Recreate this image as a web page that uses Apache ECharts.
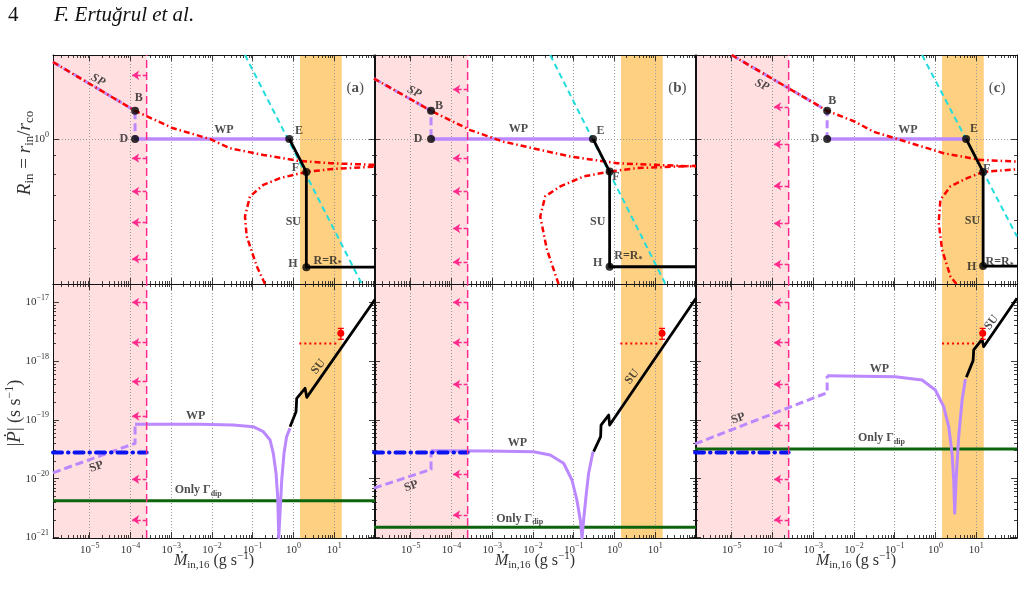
<!DOCTYPE html>
<html lang="en">
<head>
<meta charset="UTF-8">
<title>Inner radius and period derivative against mass inflow rate</title>
<script src="https://cdn.jsdelivr.net/npm/echarts@6/dist/echarts.min.js"></script>
<style>html,body{margin:0;padding:0;background:#fff}#main{width:1024px;height:589px}</style>
</head>
<body>
<div id="main"></div>
<script>
// ---- axis ranges (shared by all panels) ----
var xMin = 1.26e-6, xMax = 100;
var rMin = 0.4, rMax = 1.7;
var pMin = 0.98e-21, pMax = 2.05e-17;
var propLimit = 2.5e-4;          // pink dashed line, propeller limit
var suBand = [1.45, 15.3];       // orange band
var arrowTip = 1.1e-4;

// ---- panel (a) ----
var aTopSP = [[1.26e-6, 1.626], [1.3e-4, 1.195], [1.3e-4, 1.0]];
var aTopWP = [[1.3e-4, 1.0], [0.79, 1.0]];
var aTopSU = [[0.79, 1.0], [2.07, 0.812], [2.07, 0.445], [100, 0.445]];
var aTopRed1 = [[1.26e-6, 1.626], [1.3e-4, 1.195], [1.12e-3, 1.07], [8.9e-3, 1.0], [0.0277, 0.943], [0.182, 0.904], [1.22, 0.872], [7.9, 0.858], [100, 0.849]];
var aTopRed2 = [[0.2, 0.4], [0.125, 0.448], [0.0711, 0.541], [0.0646, 0.613], [0.0857, 0.696], [0.182, 0.748], [0.468, 0.781], [2.07, 0.812], [7.9, 0.826], [100, 0.84]];
var aTopCyan = [[0.0646, 1.7], [47.5, 0.4]];
var aTopPts = [[1.3e-4, 1.195], [1.3e-4, 1.0], [0.79, 1.0], [2.07, 0.812], [2.07, 0.445]];
var aTopArrows = [1.496, 0.886, 0.718, 0.59, 0.469];
var aTopText = [['SP', 1.6e-5, 1.45, -28, 'it'], ['B', 1.6e-4, 1.30], ['D', 6.9e-5, 1.0], ['WP', 0.0197, 1.06], ['E', 1.37, 1.053], ['F', 1.12, 0.833], ['SU', 0.99, 0.594], ['H', 0.966, 0.455], ['R=R{sub|*}', 6.87, 0.464], ['({b|a})', 32.6, 1.383, 0, 'big']];

var aBotSP = [[1.26e-6, 1.26e-20], [1.3e-4, 4.0e-20], [1.3e-4, 8.4e-20]];
var aBotWP = [[1.3e-4, 8.4e-20], [5.06e-3, 8.4e-20], [0.033, 8.2e-20], [0.103, 7.66e-20], [0.182, 6.3e-20], [0.265, 4.6e-20], [0.32, 2.7e-20], [0.373, 1.24e-20], [0.41, 4.9e-21], [0.435, 0.98e-21], [0.468, 2.6e-21], [0.515, 9.5e-21], [0.586, 2.7e-20], [0.68, 5.2e-20], [0.82, 7.2e-20]];
var aBotSU = [[0.824, 7.66e-20], [1.156, 1.38e-19], [1.2, 2.33e-19], [1.92, 3.45e-19], [2.12, 2.42e-19], [100, 1.12e-17]];
var aBotBlue = 2.8e-20;
var aBotGreen = 4.2e-21;
var aBotDotted = [[1.39, 2.0e-18], [13.4, 2.0e-18]];
var aBotObs = [14.5, 2.97e-18, 2.35e-18, 3.6e-18];
var aBotArrows = [1e-17, 2.06e-18, 4.47e-19, 1.16e-19, 9.8e-21, 2.0e-21];
var aBotText = [['WP', 3.99e-3, 1.15e-19], ['SP', 1.47e-5, 1.6e-20, 20], ['Only \u0393{sub|dip}', 4.6e-3, 6.43e-21], ['SU', 4.08, 8.0e-19, 52]];

// ---- panel (b) ----
var bTopSP = [[1.26e-6, 1.465], [3.16e-5, 1.195], [3.16e-5, 1.0]];
var bTopWP = [[3.16e-5, 1.0], [0.297, 1.0]];
var bTopSU = [[0.297, 1.0], [0.76, 0.814], [0.76, 0.446], [100, 0.446]];
var bTopRed1 = [[1.26e-6, 1.465], [3.16e-5, 1.195], [2.88e-4, 1.058], [1.89e-3, 0.983], [0.0824, 0.895], [1.16, 0.858], [100, 0.84]];
var bTopRed2 = [[0.0425, 0.4], [0.022, 0.497], [0.0151, 0.613], [0.02, 0.696], [0.0468, 0.741], [0.175, 0.789], [0.76, 0.814], [3.55, 0.832], [100, 0.844]];
var bTopCyan = [[0.0265, 1.7], [17.8, 0.4]];
var bTopPts = [[3.16e-5, 1.195], [3.16e-5, 1.0], [0.297, 1.0], [0.76, 0.814], [0.76, 0.446]];
var bTopArrows = [1.367, 0.886, 0.718, 0.568, 0.46];
var bTopText = [['SP', 1.22e-5, 1.346, -28, 'it'], ['B', 4.98e-5, 1.23], ['D', 1.53e-5, 1.0], ['WP', 4.4e-3, 1.065], ['E', 0.455, 1.05], ['F', 1.09, 0.789], ['SU', 0.386, 0.593], ['H', 0.386, 0.456], ['R=R{sub|*}', 2.19, 0.477], ['({b|b})', 35, 1.383, 0, 'big']];

var bBotSP = [[1.26e-6, 6.9e-21], [3.16e-5, 1.44e-20], [3.16e-5, 2.99e-20]];
var bBotWP = [[3.16e-5, 2.99e-20], [7.4e-4, 2.96e-20], [0.0103, 2.88e-20], [0.0265, 2.53e-20], [0.0565, 1.83e-20], [0.0906, 9.5e-21], [0.12, 4.3e-21], [0.145, 1.99e-21], [0.16, 0.98e-21], [0.175, 1.99e-21], [0.204, 5.65e-21], [0.232, 1.24e-20], [0.297, 2.88e-20]];
var bBotSU = [[0.308, 2.88e-20], [0.457, 5.18e-20], [0.468, 8.18e-20], [0.72, 1.21e-19], [0.762, 8.18e-20], [100, 1.17e-17]];
var bBotBlue = 2.8e-20;
var bBotGreen = 1.5e-21;
var bBotDotted = [[1.39, 2.0e-18], [12.2, 2.0e-18]];
var bBotObs = [14.7, 2.97e-18, 2.35e-18, 3.6e-18];
var bBotArrows = [1e-17, 2.06e-18, 4.03e-19, 1.02e-19, 1.19e-20, 2.42e-21];
var bBotText = [['WP', 4.15e-3, 4.05e-20], ['SP', 1.04e-5, 7.45e-21, 20], ['Only \u0393{sub|dip}', 4.73e-3, 2.09e-21], ['SU', 2.7, 5.43e-19, 52]];

// ---- panel (c) ----
var cTopSP = [[1e-5, 1.7], [2.2e-3, 1.195], [2.2e-3, 1.0]];
var cTopWP = [[2.2e-3, 1.0], [5.64, 1.0]];
var cTopSU = [[5.64, 1.0], [14.75, 0.812], [14.75, 0.448], [100, 0.448]];
var cTopRed1 = [[1e-5, 1.7], [2.2e-3, 1.195], [0.0107, 1.115], [0.0303, 1.047], [0.103, 1.004], [1.59, 0.914], [12.6, 0.876], [100, 0.867]];
var cTopRed2 = [[3.26, 0.4], [2.32, 0.42], [1.45, 0.497], [1.2, 0.589], [1.32, 0.681], [2.32, 0.741], [5.97, 0.781], [14.75, 0.812], [100, 0.826]];
var cTopCyan = [[0.468, 1.7], [100, 0.54]];
var cTopPts = [[2.2e-3, 1.195], [2.2e-3, 1.0], [5.64, 1.0], [14.75, 0.812], [14.75, 0.448]];
var cTopArrows = [1.225, 0.967, 0.744, 0.586, 0.453];
var cTopText = [['SP', 5.5e-5, 1.405, -25, 'it'], ['B', 2.92e-3, 1.272], ['D', 1.09e-3, 1.0], ['WP', 0.21, 1.06], ['E', 8.77, 1.066], ['F', 18.1, 0.827], ['SU', 8.05, 0.597], ['H', 7.75, 0.446], ['R=R{sub|*}', 37.5, 0.459], ['({b|c})', 32.6, 1.383, 0, 'big']];

var cBotSP = [[1.26e-6, 3.9e-20], [2.2e-3, 2.9e-19], [2.2e-3, 5.65e-19]];
var cBotWP = [[2.2e-3, 5.65e-19], [0.103, 5.43e-19], [0.468, 4.77e-19], [0.993, 3.23e-19], [1.59, 1.68e-19], [2.11, 7.66e-20], [2.55, 2.7e-20], [2.8, 9.5e-21], [2.96, 2.58e-21], [3.2, 9.5e-21], [3.71, 5.18e-20], [4.5, 2.18e-19], [5.42, 4.97e-19]];
var cBotSU = [[5.73, 5.3e-19], [8.37, 1.02e-18], [8.67, 1.55e-18], [13.9, 2.35e-18], [15.2, 1.76e-18], [100, 1.17e-17]];
var cBotBlue = 2.8e-20;
var cBotGreen = 3.2e-20;
var cBotDotted = [[1.45, 2.0e-18], [9.55, 2.0e-18]];
var cBotObs = [14.4, 2.97e-18, 2.35e-18, 3.6e-18];
var cBotArrows = [1e-17, 2.06e-18, 4.03e-19, 7.96e-20, 9.8e-21, 2.0e-21];
var cBotText = [['WP', 0.0423, 7.35e-19], ['SP', 1.46e-5, 1.06e-19, 20], ['Only \u0393{sub|dip}', 0.0473, 4.86e-20], ['SU', 23.6, 4.53e-18, 52]];

var FONT = "'Liberation Serif','DejaVu Serif',serif";
var PURPLE = '#bb88ff', RED = '#ff0000', CYAN = '#22dddd', BLUE = '#0a14f0', GREEN = '#0c640c', PINK = '#ff2a8c';
var SHADE_PINK = '#ffdfe0', SHADE_ORANGE = '#fdd082';

var panels = [
    {top: {sp: aTopSP, wp: aTopWP, su: aTopSU, red: [aTopRed1, aTopRed2], cyan: aTopCyan, pts: aTopPts, arrows: aTopArrows, text: aTopText},
     bot: {sp: aBotSP, wp: aBotWP, su: aBotSU, blue: aBotBlue, green: aBotGreen, dotted: aBotDotted, obs: aBotObs, arrows: aBotArrows, text: aBotText}},
    {top: {sp: bTopSP, wp: bTopWP, su: bTopSU, red: [bTopRed1, bTopRed2], cyan: bTopCyan, pts: bTopPts, arrows: bTopArrows, text: bTopText},
     bot: {sp: bBotSP, wp: bBotWP, su: bBotSU, blue: bBotBlue, green: bBotGreen, dotted: bBotDotted, obs: bBotObs, arrows: bBotArrows, text: bBotText}},
    {top: {sp: cTopSP, wp: cTopWP, su: cTopSU, red: [cTopRed1, cTopRed2], cyan: cTopCyan, pts: cTopPts, arrows: cTopArrows, text: cTopText},
     bot: {sp: cBotSP, wp: cBotWP, su: cBotSU, blue: cBotBlue, green: cBotGreen, dotted: cBotDotted, obs: cBotObs, arrows: cBotArrows, text: cBotText}}
];

var lefts = [53, 374, 695], W = 322;
var rows = [{top: 55, height: 229}, {top: 284, height: 254}];

function lg(v) { return Math.log10(v); }
function minorLogs(lo, hi) {
    var out = [];
    for (var d = Math.floor(lg(lo)); d <= Math.ceil(lg(hi)); d++) {
        for (var k = 2; k <= 9; k++) {
            var v = k * Math.pow(10, d);
            if (v > lo * 1.001 && v < hi * 0.999) out.push(lg(v));
        }
    }
    return out;
}
function majorLogs(lo, hi) {
    var out = [];
    for (var d = Math.ceil(lg(lo) - 1e-9); d <= Math.floor(lg(hi) + 1e-9); d++) out.push(d);
    return out;
}
function powLabel(v, lo, hi) {
    var l = lg(v), e = Math.round(l);
    if (Math.abs(l - e) > 1e-6 || e < lo || e > hi) return '';
    return '10{s|' + (e < 0 ? '\u2212' + (-e) : e) + '}';
}
var tickLabelStyle = {margin: 4, color: '#333', fontFamily: FONT, fontSize: 11, showMinLabel: true,
    rich: {s: {fontSize: 8, fontFamily: FONT, color: '#333', padding: [0, 0, 9, 0]}}};

function decoAxis(g, pos, lo, hi, vals, len, showLine) {
    return {type: 'value', gridIndex: g, position: pos, min: lo, max: hi,
        axisLine: {show: showLine, onZero: false, lineStyle: {color: '#111', width: 1}},
        axisTick: {show: true, inside: true, length: len, customValues: vals, lineStyle: {color: '#111', width: 0.8}},
        axisLabel: {show: false}, splitLine: {show: false}};
}

function ln(g, data, color, width, dash, z, cap) {
    return {type: 'line', xAxisIndex: g * 4, yAxisIndex: g * 4, data: data, symbol: 'none', showSymbol: false,
        silent: true, z: z, clip: true, animation: false,
        lineStyle: {color: color, width: width, type: dash || 'solid', cap: cap || 'butt', join: 'round'}};
}

var grids = [], xAxes = [], yAxes = [], series = [];

panels.forEach(function (p, col) {
    [0, 1].forEach(function (row) {
        var g = grids.length;
        var yLo = row === 0 ? rMin : pMin, yHi = row === 0 ? rMax : pMax;
        grids.push({left: lefts[col], top: rows[row].top, width: W, height: rows[row].height, containLabel: false, outerBoundsMode: 'none'});

        xAxes.push({type: 'log', logBase: 10, gridIndex: g, min: xMin, max: xMax, position: 'bottom',
            axisLine: {show: true, onZero: false, lineStyle: {color: '#111', width: 1}},
            axisTick: {show: true, inside: true, length: 6, lineStyle: {color: '#111', width: 0.8}},
            axisLabel: Object.assign({show: row === 1, formatter: function (v) { return powLabel(v, -5, 1); }}, tickLabelStyle),
            splitLine: {show: true, lineStyle: {color: '#999', type: [1, 2], width: 1}}});
        xAxes.push(decoAxis(g, 'bottom', lg(xMin), lg(xMax), minorLogs(xMin, xMax), 3, false));
        xAxes.push(decoAxis(g, 'top', lg(xMin), lg(xMax), majorLogs(xMin, xMax), 6, true));
        xAxes.push(decoAxis(g, 'top', lg(xMin), lg(xMax), minorLogs(xMin, xMax), 3, false));

        yAxes.push({type: 'log', logBase: 10, gridIndex: g, min: yLo, max: yHi, position: 'left',
            axisLine: {show: true, onZero: false, lineStyle: {color: '#111', width: 1}},
            axisTick: {show: true, inside: true, length: 6, lineStyle: {color: '#111', width: 0.8}},
            axisLabel: Object.assign({show: col === 0, formatter: function (v) { return row === 0 ? powLabel(v, 0, 0) : powLabel(v, -21, -17); }}, tickLabelStyle),
            splitLine: {show: row === 0, lineStyle: {color: '#999', type: [1, 2], width: 1}}});
        yAxes.push(decoAxis(g, 'left', lg(yLo), lg(yHi), minorLogs(yLo, yHi), 3, false));
        yAxes.push(decoAxis(g, 'right', lg(yLo), lg(yHi), majorLogs(yLo, yHi), 6, true));
        yAxes.push(decoAxis(g, 'right', lg(yLo), lg(yHi), minorLogs(yLo, yHi), 3, false));

        // shaded regions
        series.push({type: 'line', xAxisIndex: g * 4, yAxisIndex: g * 4, data: [[xMin, yLo]], symbol: 'none', silent: true, z: -1,
            markArea: {silent: true, z: -1, data: [
                [{xAxis: xMin, itemStyle: {color: SHADE_PINK}}, {xAxis: propLimit}],
                [{xAxis: suBand[0], itemStyle: {color: SHADE_ORANGE}}, {xAxis: suBand[1]}]
            ]}});
        // propeller limit line and arrows
        series.push(ln(g, [[propLimit, yLo], [propLimit, yHi]], PINK, 1.5, [8, 4], 6));
        var d = row === 0 ? p.top : p.bot;
        series.push({type: 'lines', coordinateSystem: 'cartesian2d', xAxisIndex: g * 4, yAxisIndex: g * 4, silent: true, z: 6,
            symbol: ['none', 'arrow'], symbolSize: 7,
            lineStyle: {color: PINK, width: 1.4, type: [4, 2], opacity: 1},
            data: d.arrows.map(function (y) { return {coords: [[propLimit, y], [arrowTip, y]]}; })});

        if (row === 0) {
            series.push(ln(g, d.cyan, CYAN, 2, [6, 4], 3));
            series.push(ln(g, d.sp, PURPLE, 3, [8, 4], 4));
            series.push(ln(g, d.wp, PURPLE, 3.5, 'solid', 4));
            series.push(ln(g, d.red[0], RED, 2.5, [6, 3, 1.5, 3], 5));
            series.push(ln(g, d.red[1], RED, 2.5, [6, 3, 1.5, 3], 5));
            series.push(ln(g, d.su, '#000', 2.8, 'solid', 6));
            series.push({type: 'scatter', xAxisIndex: g * 4, yAxisIndex: g * 4, data: d.pts, symbolSize: 8, silent: true, z: 8,
                itemStyle: {color: '#000'}});
        } else {
            series.push(ln(g, [[xMin, d.green], [xMax, d.green]], GREEN, 3, 'solid', 3));
            series.push(ln(g, d.sp, PURPLE, 3, [8, 4], 4));
            series.push(ln(g, d.wp, PURPLE, 3, 'solid', 4));
            series.push(ln(g, [[xMin, d.blue], [propLimit, d.blue]], BLUE, 4, [9, 6, 0.5, 6], 5, 'round'));
            series.push(ln(g, d.su, '#000', 2.8, 'solid', 6));
            series.push(ln(g, d.dotted, RED, 2, [2, 3], 6));
            series.push({type: 'custom', xAxisIndex: g * 4, yAxisIndex: g * 4, data: [d.obs], silent: true, z: 9,
                encode: {x: 0, y: 1},
                renderItem: function (params, api) {
                    var c = api.coord([api.value(0), api.value(1)]);
                    var lo = api.coord([api.value(0), api.value(2)]);
                    var hi = api.coord([api.value(0), api.value(3)]);
                    var st = {stroke: RED, lineWidth: 1.3};
                    return {type: 'group', children: [
                        {type: 'line', shape: {x1: lo[0], y1: lo[1], x2: hi[0], y2: hi[1]}, style: st},
                        {type: 'line', shape: {x1: lo[0] - 3, y1: lo[1], x2: lo[0] + 3, y2: lo[1]}, style: st},
                        {type: 'line', shape: {x1: hi[0] - 3, y1: hi[1], x2: hi[0] + 3, y2: hi[1]}, style: st},
                        {type: 'circle', shape: {cx: c[0], cy: c[1], r: 3.5}, style: {fill: RED}}
                    ]};
                }});
        }
        // annotations
        series.push({type: 'scatter', xAxisIndex: g * 4, yAxisIndex: g * 4, symbolSize: 0, silent: true, z: 10,
            itemStyle: {color: 'transparent'},
            label: {show: true, position: 'inside', color: '#222', fontFamily: FONT, fontSize: 12, fontWeight: 'bold',
                rich: {sub: {fontSize: 8, fontWeight: 'bold', fontFamily: FONT, color: '#222', padding: [7, 0, 0, 0]},
                       b: {fontSize: 15, fontWeight: 'bold', fontFamily: FONT, color: '#222'}}},
            data: d.text.map(function (t) {
                return {value: [t[1], t[2]], label: {formatter: t[0], rotate: t[3] || 0,
                    fontStyle: t[4] === 'it' ? 'italic' : 'normal',
                    fontSize: t[4] === 'big' ? 15 : 12, fontWeight: t[4] === 'big' ? 'normal' : 'bold'}};
            })});
    });
});

var titleRich = {
    i: {fontStyle: 'italic', fontSize: 19, fontFamily: FONT, fill: '#333'},
    sub: {fontSize: 13, fontFamily: FONT, fill: '#333', padding: [9, 0, 0, 0]},
    sup: {fontSize: 12, fontFamily: FONT, fill: '#333', padding: [0, 0, 10, 0]}
};
var xTitleRich = {
    i: {fontStyle: 'italic', fontSize: 16, fontFamily: FONT, fill: '#333'},
    sub: {fontSize: 11, fontFamily: FONT, fill: '#333', padding: [8, 0, 0, 0]},
    sup: {fontSize: 11, fontFamily: FONT, fill: '#333', padding: [0, 0, 10, 0]}
};
var graphics = [
    {type: 'text', x: 8, y: 15, style: {text: '4', font: '21px ' + FONT, fill: '#111', verticalAlign: 'middle'}},
    {type: 'text', x: 54, y: 15, style: {text: 'F. Ertu\u011Frul et al.', font: 'italic 21px ' + FONT, fill: '#111', verticalAlign: 'middle'}},
    {type: 'text', x: 25, y: 153, rotation: Math.PI / 2,
        style: {text: '{i|R}{sub|in} = {i|r}{sub|in}/{i|r}{sub|co}', font: '19px ' + FONT, fill: '#333', align: 'center', verticalAlign: 'middle', rich: titleRich}},
    {type: 'text', x: 15, y: 413, rotation: Math.PI / 2,
        style: {text: '|{i|\u1E56}| (s s{sup|\u22121})', font: '18px ' + FONT, fill: '#333', align: 'center', verticalAlign: 'middle', rich: titleRich}}
];
lefts.forEach(function (l) {
    graphics.push({type: 'text', x: l + W / 2, y: 561,
        style: {text: '{i|\u1E40}{sub|in,16} (g s{sup|\u22121})', font: '16px ' + FONT, fill: '#333', align: 'center', verticalAlign: 'middle', rich: xTitleRich}});
});

var chart = echarts.init(document.getElementById('main'));
chart.setOption({
    animation: false,
    backgroundColor: '#fff',
    grid: grids,
    xAxis: xAxes,
    yAxis: yAxes,
    series: series,
    graphic: graphics
});
</script>
</body>
</html>
